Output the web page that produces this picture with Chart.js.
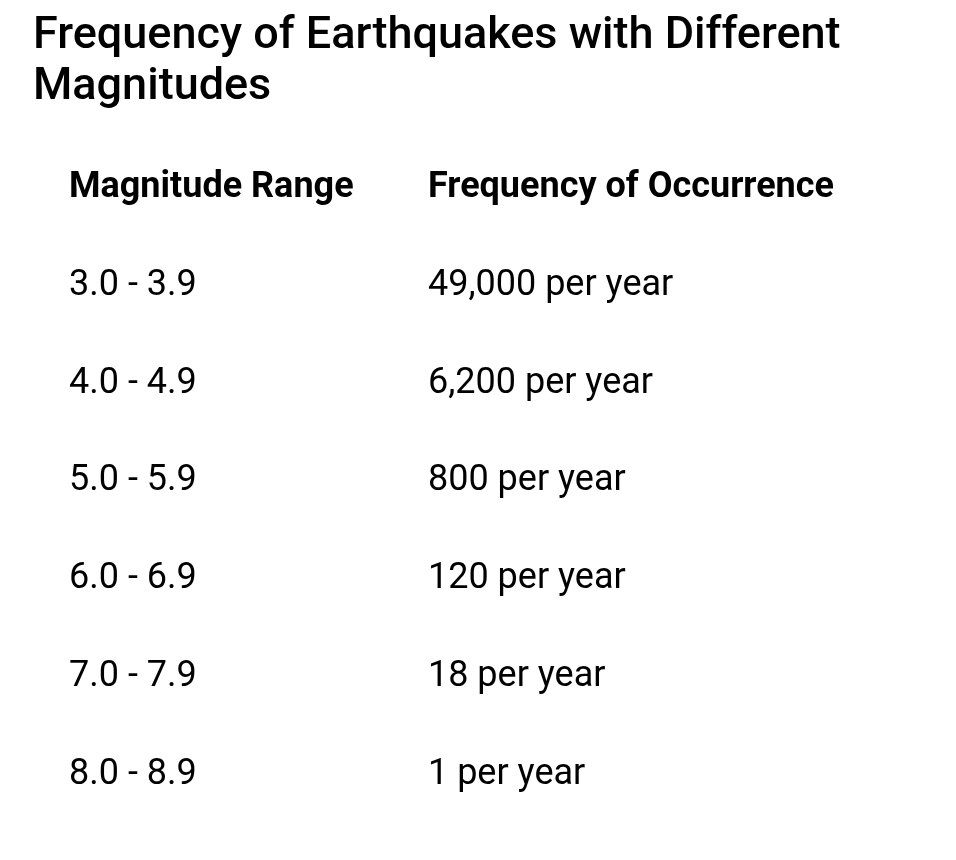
<!DOCTYPE html>
<html>
<head>
<meta charset="utf-8">
<script src="https://cdn.jsdelivr.net/npm/chart.js@4.4.1/dist/chart.umd.min.js"></script>
<style>
  html, body { margin: 0; padding: 0; background: #ffffff; }
  #wrap { width: 956px; height: 860px; position: relative; }
</style>
</head>
<body>
<div id="wrap"><canvas id="c" width="956" height="860"></canvas></div>
<script>
const titleLines = ['Frequency of Earthquakes with Different', 'Magnitudes'];
const columnHeaders = ['Magnitude Range', 'Frequency of Occurrence'];
const magnitudeRanges = ['3.0 - 3.9', '4.0 - 4.9', '5.0 - 5.9', '6.0 - 6.9', '7.0 - 7.9', '8.0 - 8.9'];
const frequencyPerYear = [49000, 6200, 800, 120, 18, 1];
const frequencyUnit = 'per year';

const frequencyLabels = frequencyPerYear.map(v => v.toLocaleString('en-US') + ' ' + frequencyUnit);

const headerPoints = columnHeaders.map((h, i) => ({ x: i, y: 0, text: h }));
const rangePoints = magnitudeRanges.map((r, i) => ({ x: 0, y: i + 1, text: r }));
const freqPoints = frequencyLabels.map((f, i) => ({ x: 1, y: i + 1, text: f }));

const cellTextPlugin = {
  id: 'cellText',
  afterDatasetsDraw(chart) {
    const ctx = chart.ctx;
    ctx.save();
    ctx.textAlign = 'left';
    ctx.textBaseline = 'alphabetic';
    ctx.fillStyle = '#000000';
    chart.data.datasets.forEach((ds, di) => {
      const meta = chart.getDatasetMeta(di);
      ctx.font = ds.cellFont;
      meta.data.forEach((el, i) => {
        ctx.fillText(ds.data[i].text, el.x, el.y);
      });
    });
    ctx.restore();
  }
};

function build() {
  const ctx = document.getElementById('c').getContext('2d');
  new Chart(ctx, {
    type: 'scatter',
    data: {
      datasets: [
        { label: 'header', data: headerPoints, pointRadius: 0, cellFont: 'bold 36px Roboto' },
        { label: 'range', data: rangePoints, pointRadius: 0, cellFont: '36px Roboto' },
        { label: 'frequency', data: freqPoints, pointRadius: 0, cellFont: '36px Roboto' }
      ]
    },
    options: {
      responsive: false,
      animation: false,
      events: [],
      layout: { padding: { left: 33, right: 33, top: 11.5, bottom: 27 } },
      plugins: {
        legend: { display: false },
        tooltip: { enabled: false },
        title: {
          display: true,
          text: titleLines,
          align: 'start',
          color: '#000000',
          font: { family: 'Roboto', size: 45, weight: '500', lineHeight: 1.133 },
          padding: { top: 0, bottom: 34.5 }
        }
      },
      scales: {
        x: { type: 'linear', display: false, min: -0.1003, max: 2.379 },
        y: { type: 'linear', display: false, reverse: true, min: -0.5, max: 6.5 }
      }
    },
    plugins: [cellTextPlugin]
  });
}

Promise.all([
  document.fonts.load('500 45px Roboto'),
  document.fonts.load('bold 36px Roboto'),
  document.fonts.load('36px Roboto')
]).then(build, build);
</script>
</body>
</html>
